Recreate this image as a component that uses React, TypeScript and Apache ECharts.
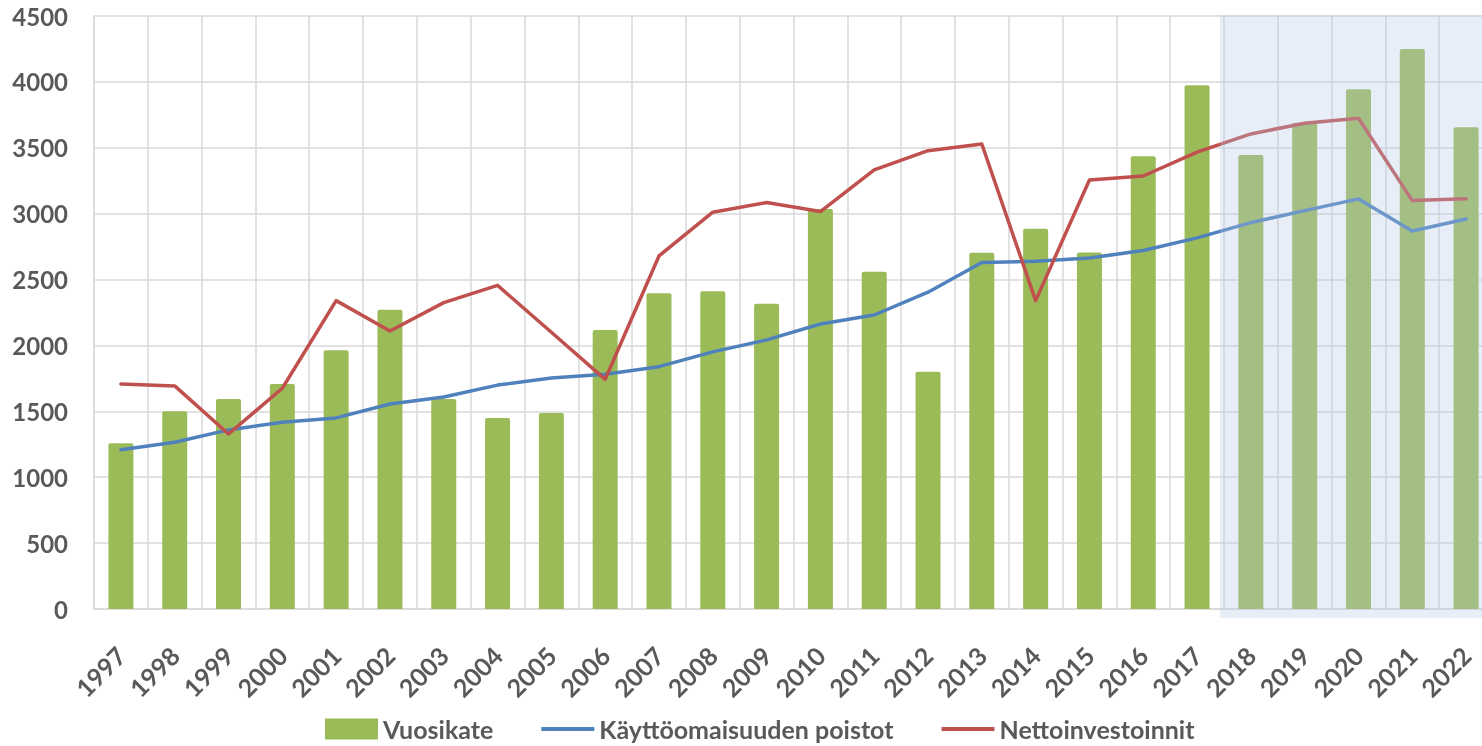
import React, { useEffect, useRef } from "react";
import * as echarts from "echarts";

const years = [
  "1997", "1998", "1999", "2000", "2001", "2002", "2003", "2004", "2005", "2006",
  "2007", "2008", "2009", "2010", "2011", "2012", "2013", "2014", "2015", "2016",
  "2017", "2018", "2019", "2020", "2021", "2022",
];
const vuosikate = [
  1258, 1500, 1593, 1707, 1963, 2270, 1593, 1450, 1487, 2117,
  2397, 2412, 2316, 3035, 2560, 1800, 2703, 2885, 2706, 3436,
  3975, 3446, 3690, 3945, 4250, 3656,
];
const poistot = [
  1209, 1265, 1359, 1417, 1450, 1556, 1609, 1699, 1753, 1781,
  1839, 1951, 2042, 2163, 2231, 2404, 2629, 2639, 2664, 2720,
  2816, 2932, 3023, 3112, 2869, 2960,
];
const netto = [
  1708, 1693, 1328, 1675, 2340, 2110, 2325, 2456, 2100, 1743,
  2679, 3011, 3084, 3016, 3332, 3478, 3529, 2340, 3256, 3286,
  3467, 3605, 3686, 3724, 3099, 3114,
];
const seriesNames = ["Vuosikate", "Käyttöomaisuuden poistot", "Nettoinvestoinnit"];
const forecastStart = "2018";
const lastActual = "2017";

const FONT = "Lato, 'Open Sans', sans-serif";
const TEXT = "#595959";
const GRID = "#d9d9d9";
const LINE_ICON = "path://M0,0 L53,0 L53,4 L0,4 Z";

export default function App() {
  const ref = useRef<HTMLDivElement>(null);
  useEffect(() => {
    if (!ref.current) return;
    const chart = echarts.init(ref.current, undefined, { renderer: "svg" });
    chart.setOption({
      animation: false,
      grid: { left: 94, right: 0, top: 16, bottom: 137 },
      legend: {
        left: 325,
        top: 716,
        padding: 0,
        itemWidth: 53,
        itemHeight: 21,
        itemGap: 48,
        symbolKeepAspect: true,
        textStyle: {
          fontFamily: FONT,
          fontWeight: "bold",
          fontSize: 25,
          lineHeight: 26,
          color: TEXT,
        },
        data: [
          { name: seriesNames[0], icon: "rect" },
          { name: seriesNames[1], icon: LINE_ICON },
          { name: seriesNames[2], icon: LINE_ICON },
        ],
      },
      xAxis: {
        type: "category",
        data: years,
        boundaryGap: true,
        axisLine: { show: true, lineStyle: { color: GRID, width: 1.5 } },
        axisTick: { show: false },
        splitLine: { show: true, lineStyle: { color: GRID, width: 1.5 } },
        axisLabel: {
          rotate: 45,
          margin: 42,
          interval: 0,
          fontFamily: FONT,
          fontWeight: "bold",
          fontSize: 25,
          color: TEXT,
        },
      },
      yAxis: {
        type: "value",
        min: 0,
        max: 4500,
        interval: 500,
        axisLine: { show: true, lineStyle: { color: GRID, width: 1.5 } },
        axisTick: { show: false },
        splitLine: { show: true, lineStyle: { color: GRID, width: 1.5 } },
        axisLabel: {
          margin: 26,
          fontFamily: FONT,
          fontWeight: "bold",
          fontSize: 24,
          color: TEXT,
          formatter: (v: number) => String(v),
        },
      },
      series: [
        {
          name: seriesNames[0],
          type: "bar",
          data: vuosikate,
          barWidth: 25,
          itemStyle: { color: "#9bbb59", borderRadius: [2, 2, 0, 0] },
          z: 2,
        },
        {
          name: seriesNames[1],
          type: "line",
          data: poistot,
          symbol: "none",
          lineStyle: { color: "#4f81bd", width: 3.5, join: "round", cap: "round" },
          itemStyle: { color: "#4f81bd" },
          z: 3,
        },
        {
          name: seriesNames[2],
          type: "line",
          data: netto,
          symbol: "none",
          lineStyle: { color: "#c0504d", width: 3.5, join: "round", cap: "round" },
          itemStyle: { color: "#c0504d" },
          z: 4,
        },
      ],
    });

    const c17 = chart.convertToPixel({ xAxisIndex: 0 }, lastActual) as number;
    const c18 = chart.convertToPixel({ xAxisIndex: 0 }, forecastStart) as number;
    const yTop = chart.convertToPixel({ yAxisIndex: 0 }, 4500) as number;
    const y0 = chart.convertToPixel({ yAxisIndex: 0 }, 0) as number;
    const bx = (c17 + c18) / 2 - 4;
    chart.setOption({
      graphic: [
        {
          type: "rect",
          silent: true,
          z: 100,
          shape: { x: bx, y: yTop - 1, width: 1600 - bx, height: y0 - yTop + 10 },
          style: { fill: "rgba(181,200,229,0.31)" },
        },
      ],
    });

    return () => chart.dispose();
  }, []);
  return (
    <div
      style={{
        position: "fixed",
        left: 0,
        top: 0,
        width: 1482,
        height: 746,
        overflow: "hidden",
      }}
    >
      <div ref={ref} style={{ width: 1493, height: 746 }} />
    </div>
  );
}
